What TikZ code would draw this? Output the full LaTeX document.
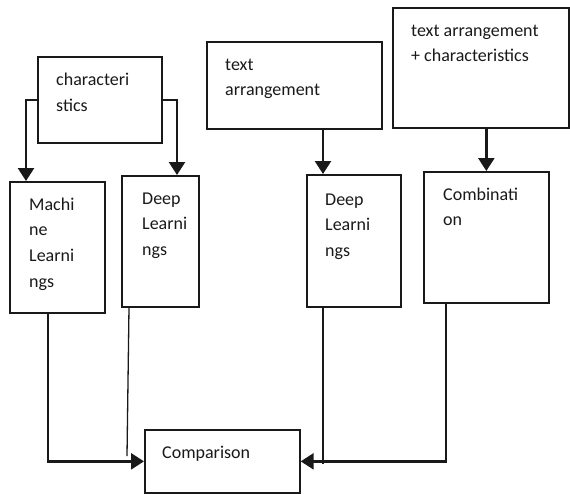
\documentclass[tikz,border=0pt]{standalone}
\usepackage{fontspec}
\setmainfont{Carlito}
\usetikzlibrary{arrows.meta}
\begin{document}
\begin{tikzpicture}[x=1pt,y=-1pt,
  box/.style={draw=black!90,line width=1.7pt,anchor=north west,inner sep=0pt},
  lbl/.style={anchor=base west,align=left,inner sep=0pt,font=\fontsize{18}{25.8}\selectfont,text=black!90},
  arr/.style={draw=black!90,line width=2.6pt,-{Triangle[width=16pt,length=13pt]}},
  thin/.style={draw=black!90,line width=1.3pt}]
\useasboundingbox (0,0) rectangle (570,493);
% boxes
\node[box,minimum width=124pt,minimum height=86pt] (char) at (37,56) {};
\node[box,minimum width=95pt,minimum height=131pt] (ml) at (9,181) {};
\node[box,minimum width=77pt,minimum height=131pt] (dla) at (121,175) {};
\node[box,minimum width=175pt,minimum height=87pt] (ta) at (206,41) {};
\node[box,minimum width=176pt,minimum height=120pt] (tac) at (392,7) {};
\node[box,minimum width=94pt,minimum height=132pt] (dlb) at (306,174) {};
\node[box,minimum width=125pt,minimum height=131pt] (comb) at (423,171) {};
\node[box,minimum width=155pt,minimum height=63pt] (comp) at (144,429) {};
% texts (anchored at the baseline of their last line)
\node[lbl] (tchar) at (56,111.5) {characteri\\stics};
\node[lbl] (tml) at (29,287.4) {Machi\\ne\\Learni\\ngs};
\node[lbl] (tdla) at (142,255.6) {Deep\\Learni\\ngs};
\node[lbl] (tta) at (225,95.8) {text\\arrangement};
\node[lbl] (ttac) at (411,61.8) {text arrangement\\+ characteristics};
\node[lbl] (tdlb) at (325,256.6) {Deep\\Learni\\ngs};
\node[lbl] (tcomb) at (443,225.8) {Combinati\\on};
\node[lbl] (tcomp) at (162,458) {Comparison};
% connectors
\draw[arr] (char.west) -| ([xshift=17pt]ml.north west);
\draw[arr] (char.east) -| ([xshift=56pt]dla.north west);
\coordinate (dlbin) at ([xshift=17pt]dlb.north west);
\draw[arr] (dlbin |- ta.south) -- (dlbin);
\draw[arr] (comb.north |- tac.south) -- (comb.north);
\draw[arr] ([xshift=39pt]ml.south west) |- (comp.west);
\draw[arr] ([xshift=23pt]comb.south west) |- (comp.east);
% loose thin lines
\coordinate (enda) at (127,456);
\coordinate (endb) at (323,464);
\draw[thin] ([xshift=8pt]dla.south west) -- (enda);
\draw[thin] ([xshift=17pt]dlb.south west) -- (endb);
\end{tikzpicture}
\end{document}
